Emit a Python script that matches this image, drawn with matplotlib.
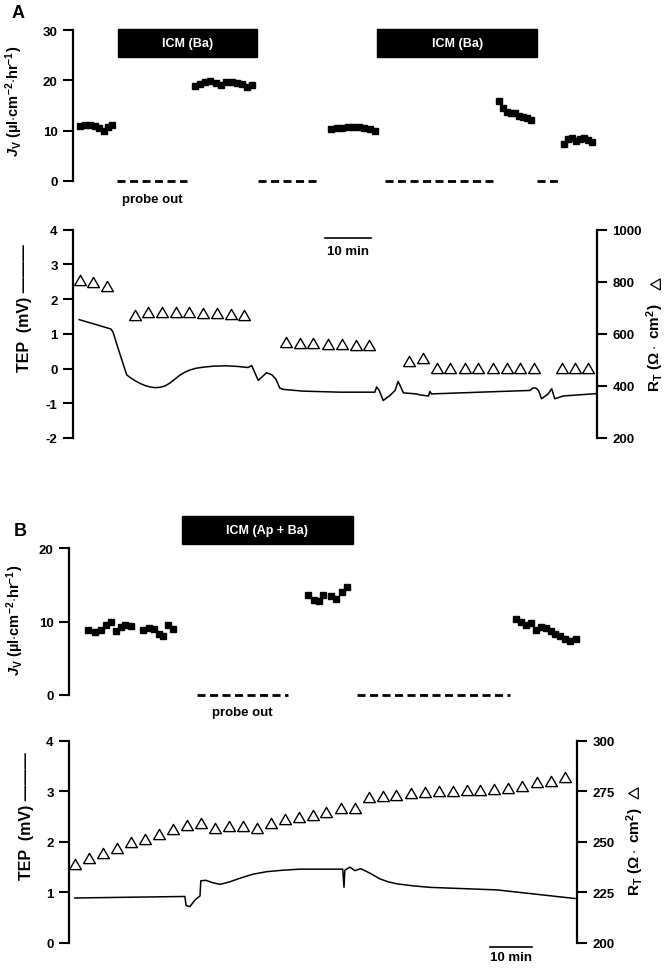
import numpy as np
import matplotlib.pyplot as plt
from matplotlib.patches import Rectangle

plt.rcParams['font.family'] = ['Liberation Sans', 'DejaVu Sans']
plt.rcParams['font.weight'] = 'bold'
plt.rcParams['axes.unicode_minus'] = False
plt.rcParams['mathtext.fontset'] = 'custom'
plt.rcParams['mathtext.rm'] = 'Liberation Sans:bold'
plt.rcParams['mathtext.it'] = 'Liberation Sans:italic:bold'
plt.rcParams['mathtext.bf'] = 'Liberation Sans:bold'

# ---------------- Panel A data (time in min) ----------------
jv_a_t = [1.6, 2.7, 3.9, 5.0, 5.9, 7.0, 8.0, 8.9,
          27.7, 28.9, 30.0, 31.1, 32.5, 33.6, 34.8, 36.1, 37.3, 38.4, 39.5, 40.7,
          58.6, 60.0, 61.1, 62.5, 63.6, 65.0, 66.1, 67.5, 68.6,
          96.8, 97.7, 98.6, 99.5, 100.5, 101.4, 102.3, 103.2, 104.1,
          111.6, 112.5, 113.4, 114.3, 115.2, 116.1, 117.0, 117.9]
jv_a = [11.0, 11.1, 11.2, 11.0, 10.5, 10.0, 10.7, 11.2,
        18.8, 19.3, 19.7, 19.9, 19.4, 19.1, 19.6, 19.7, 19.5, 19.2, 18.7, 19.0,
        10.4, 10.5, 10.6, 10.7, 10.8, 10.7, 10.5, 10.4, 10.0,
        15.9, 14.5, 13.8, 13.5, 13.5, 13.0, 12.8, 12.6, 12.1,
        7.4, 8.3, 8.6, 8.0, 8.4, 8.6, 8.1, 7.8]
probe_out_a = [(10.0, 25.9), (42.0, 55.5), (70.9, 95.5), (105.5, 110.2)]
icm_a = [(10.2, 41.8), (69.1, 105.5)]

tep_a_t = [1.4, 8.6, 9.1, 10.2, 11.1, 12.2, 13.0, 14.1, 15.3, 16.4, 17.5, 18.6,
           19.8, 20.9, 22.0, 23.2, 24.3, 25.5, 26.6, 28.0, 29.6, 32.0, 34.9,
           37.5, 39.8, 40.6, 42.1, 44.0, 45.2, 46.1, 47.0, 47.8,
           52.3, 60.7, 68.6, 69.0, 69.6, 70.5, 72.0, 73.2, 73.9, 74.5, 75.1,
           78.1, 78.9, 80.8, 81.1, 81.5, 92.5, 103.9, 104.5, 105.2, 105.8,
           106.5, 108.0, 108.8, 109.5, 111.4, 119.1]
tep_a = [1.41, 1.14, 1.05, 0.60, 0.25, -0.18, -0.26, -0.35, -0.43, -0.49, -0.53, -0.55,
         -0.54, -0.50, -0.42, -0.30, -0.19, -0.10, -0.04, 0.01, 0.04, 0.07, 0.08,
         0.06, 0.03, 0.09, -0.34, -0.12, -0.18, -0.30, -0.56, -0.60,
         -0.65, -0.68, -0.68, -0.53, -0.63, -0.92, -0.78, -0.63, -0.37, -0.53, -0.70,
         -0.73, -0.76, -0.79, -0.66, -0.73, -0.68, -0.63, -0.56, -0.56, -0.63,
         -0.87, -0.73, -0.58, -0.87, -0.79, -0.72]

rt_a_t = [1.6, 4.6, 7.8,
          14.1, 17.1, 20.3, 23.4, 26.4, 29.6, 32.7, 35.8, 38.9,
          48.3, 51.6, 54.6, 58.0, 61.1, 64.3, 67.3,
          76.4, 79.6, 82.8, 85.8, 89.1, 92.1, 95.4, 98.6, 101.6, 104.8,
          111.1, 114.1, 117.1]
rt_a = [808, 798, 785,
        671, 683, 683, 682, 682, 681, 679, 678, 674,
        567, 565, 563, 562, 561, 559, 558,
        494, 509, 468, 468, 468, 468, 468, 468, 468, 468,
        468, 468, 468]

# ---------------- Panel B data ----------------
jv_b_t = [4.5, 6.2, 7.6, 8.8, 10.0, 11.2, 12.4, 13.3, 14.8,
          17.6, 19.0, 20.2, 21.4, 22.4, 23.6, 24.8,
          56.9, 58.3, 59.5, 60.5, 62.4, 63.6, 65.0, 66.2,
          106.4, 107.6, 108.8, 110.0, 111.2, 112.4, 113.6, 114.8, 115.7, 116.9, 118.1, 119.3, 120.7]
jv_b = [8.9, 8.6, 8.9, 9.6, 10.0, 8.7, 9.3, 9.6, 9.4,
        8.8, 9.2, 9.0, 8.3, 8.0, 9.6, 9.0,
        13.7, 12.9, 12.8, 13.6, 13.5, 13.1, 14.0, 14.7,
        10.4, 10.0, 9.6, 9.8, 8.8, 9.3, 9.1, 8.7, 8.3, 8.0, 7.6, 7.3, 7.6]
probe_out_b = [(30.5, 52.1), (68.6, 105.0)]
icm_b = [(26.9, 67.6)]

tep_b_t = [1.4, 27.6, 27.9, 28.8, 30.0, 31.2, 31.4, 32.6, 34.3, 36.0, 38.3, 40.7,
           43.8, 47.1, 51.0, 55.0, 65.2, 65.5, 65.7, 66.9, 68.1, 69.5, 71.7, 74.0,
           76.0, 78.1, 82.0, 86.0, 101.9, 120.5]
tep_b = [0.89, 0.92, 0.74, 0.72, 0.85, 0.93, 1.23, 1.24, 1.19, 1.16, 1.21, 1.28,
         1.36, 1.41, 1.44, 1.46, 1.46, 1.10, 1.44, 1.50, 1.43, 1.47, 1.38, 1.27,
         1.21, 1.17, 1.13, 1.10, 1.05, 0.88]

rt_b_t = [1.4, 4.8, 8.0, 11.5, 14.8, 18.1, 21.5, 24.8, 28.0, 31.4, 34.8, 38.1,
          41.4, 44.7, 48.0, 51.4, 54.8, 58.0, 61.1, 64.7, 68.1, 71.5, 74.7, 78.0,
          81.4, 84.8, 88.1, 91.4, 94.7, 98.0, 101.3, 104.6, 107.9, 111.4, 114.7, 118.1]
rt_b = [239.0, 241.8, 244.5, 247.1, 249.8, 251.4, 253.9, 256.3, 258.3, 259.1, 256.7, 257.7,
        257.7, 256.7, 259.3, 261.3, 262.1, 263.4, 264.9, 266.5, 266.5, 272.0, 272.5, 273.1,
        274.1, 274.5, 275.1, 275.1, 275.6, 275.6, 276.1, 276.4, 277.7, 279.7, 280.2, 281.9]

# equilateral open triangle
tri = [(-1, -0.866), (1, -0.866), (0, 0.866), (-1, -0.866)]
tri_left = [(0.866, -1), (0.866, 1), (-0.866, 0), (0.866, -1)]


def style(ax, side='left'):
    for s in ['top', 'bottom', 'left', 'right']:
        ax.spines[s].set_visible(s == side)
    ax.spines[side].set_linewidth(1.6)
    ax.tick_params(axis='y', direction='out', length=7, width=1.5,
                   labelsize=9.5, pad=4)
    ax.xaxis.set_visible(False)
    ax.patch.set_visible(False)


def jv_panel(ax, t, jv, probe, icm, icm_label, bar_lo, bar_hi, probe_xy):
    ax.plot(t, jv, 's', color='k', ms=5, clip_on=False)
    for t0, t1 in probe:
        ax.plot([t0, t1], [0, 0], color='k', lw=2, dashes=(2.9, 1.6),
                clip_on=False, solid_capstyle='butt')
    for t0, t1 in icm:
        ax.add_patch(Rectangle((t0, bar_lo), t1 - t0, bar_hi - bar_lo,
                               color='k', clip_on=False))
        ax.text((t0 + t1) / 2, (bar_lo + bar_hi) / 2, icm_label, color='white',
                ha='center', va='center', fontsize=9)
    ax.text(probe_xy[0], probe_xy[1], 'probe out', ha='center', va='center',
            fontsize=9.5)


jv_label = r'$\mathit{J}_\mathrm{V}$ (µl$\cdot$cm$^{-2}$$\cdot$hr$^{-1}$)'
rt_label = r'R$_\mathrm{T}$ ($\Omega\cdot$ cm$^\mathrm{2}$)'

fig = plt.figure(figsize=(6.72, 9.70), dpi=100)

# ---- A top ----
ax1 = fig.add_axes([73 / 672, 1 - 182 / 970, 524 / 672, 151 / 970])
style(ax1)
ax1.set_xlim(0, 119.1)
ax1.set_ylim(0, 30)
ax1.set_yticks([0, 10, 20, 30])
jv_panel(ax1, jv_a_t, jv_a, probe_out_a, icm_a, 'ICM (Ba)', 24.6, 30.2, (18.0, -3.6))
ax1.text(-0.113, 0.536, jv_label, rotation=90, transform=ax1.transAxes,
         ha='center', va='center', fontsize=10.5)

# ---- A bottom ----
ax2 = fig.add_axes([73 / 672, 1 - 439 / 970, 524 / 672, 208.3 / 970])
style(ax2)
ax2.set_xlim(0, 119.1)
ax2.set_ylim(-2, 4)
ax2.set_yticks([-2, -1, 0, 1, 2, 3, 4])
ax2.plot(tep_a_t, tep_a, color='k', lw=1.1)
ax2.plot([57.3, 67.7], [3.75, 3.75], color='k', lw=1.2)
ax2.text(62.5, 3.38, '10 min', ha='center', va='center', fontsize=9.5)
ax2.text(-0.092, 0.626, 'TEP  (mV) ———', rotation=90, transform=ax2.transAxes,
         ha='center', va='center', fontsize=11.5)
ax2r = ax2.twinx()
style(ax2r, 'right')
ax2r.set_ylim(200, 1000)
ax2r.set_yticks([200, 400, 600, 800, 1000])
ax2r.plot(rt_a_t, rt_a, marker=tri, ls='none', mfc='white', mec='k', mew=1.0,
          ms=8.5, clip_on=False)
ax2r.text(1.111, 0.437, rt_label, rotation=90, transform=ax2r.transAxes,
          ha='center', va='center', fontsize=11)
ax2r.plot([1.111], [0.739], marker=tri_left, ls='none', mfc='white', mec='k',
          mew=0.9, ms=8, transform=ax2r.transAxes, clip_on=False)

# ---- B top ----
ax3 = fig.add_axes([69 / 672, 1 - 696 / 970, 508 / 672, 146.7 / 970])
style(ax3)
ax3.set_xlim(0, 121.0)
ax3.set_ylim(0, 20)
ax3.set_yticks([0, 10, 20])
jv_panel(ax3, jv_b_t, jv_b, probe_out_b, icm_b, 'ICM (Ap + Ba)', 20.6, 24.4, (41.3, -2.3))
ax3.text(-0.106, 0.518, jv_label, rotation=90, transform=ax3.transAxes,
         ha='center', va='center', fontsize=10.5)

# ---- B bottom ----
ax4 = fig.add_axes([69 / 672, 1 - 944 / 970, 508 / 672, 202.3 / 970])
style(ax4)
ax4.set_xlim(0, 121.0)
ax4.set_ylim(0, 4)
ax4.set_yticks([0, 1, 2, 3, 4])
ax4.plot(tep_b_t, tep_b, color='k', lw=1.1)
ax4.plot([100.2, 110.3], [-0.07, -0.07], color='k', lw=1.2, clip_on=False)
ax4.text(105.2, -0.28, '10 min', ha='center', va='center', fontsize=9.5)
ax4.text(-0.083, 0.633, 'TEP  (mV) ———', rotation=90, transform=ax4.transAxes,
         ha='center', va='center', fontsize=11.5)
ax4r = ax4.twinx()
style(ax4r, 'right')
ax4r.set_ylim(200, 300)
ax4r.set_yticks([200, 225, 250, 275, 300])
ax4r.plot(rt_b_t, rt_b, marker=tri, ls='none', mfc='white', mec='k', mew=1.0,
          ms=8.5, clip_on=False)
ax4r.text(1.114, 0.455, rt_label, rotation=90, transform=ax4r.transAxes,
          ha='center', va='center', fontsize=11)
ax4r.plot([1.110], [0.741], marker=tri_left, ls='none', mfc='white', mec='k',
          mew=0.9, ms=8, transform=ax4r.transAxes, clip_on=False)

fig.text(18.5 / 672, 1 - 14 / 970, 'A', fontsize=13, ha='center', va='center')
fig.text(20 / 672, 1 - 531 / 970, 'B', fontsize=13, ha='center', va='center')

fig.savefig('out.png', dpi=100)
